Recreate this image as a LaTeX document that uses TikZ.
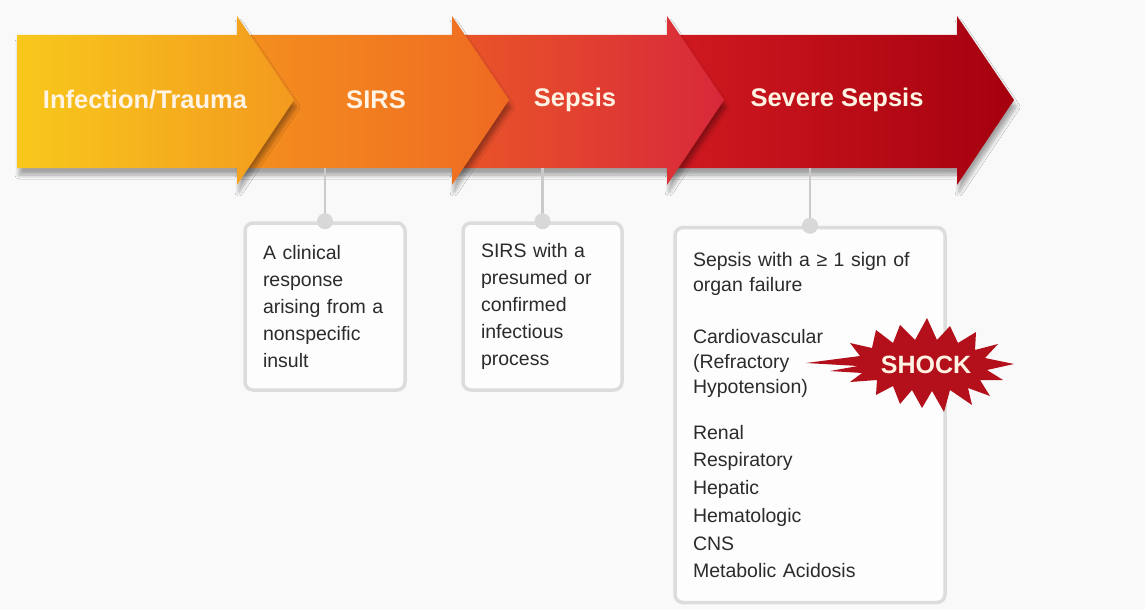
\documentclass[tikz,border=0pt]{standalone}
\usepackage{fontspec}
\setmainfont{Liberation Sans}
\usetikzlibrary{shadows.blur}
\definecolor{bg}{HTML}{F9F9F9}
\definecolor{boxfill}{HTML}{FDFDFD}
\definecolor{boxline}{HTML}{DCDCDC}
\definecolor{connline}{HTML}{CACACA}
\definecolor{knob}{HTML}{D8D8D8}
\definecolor{txt}{HTML}{2B2B2B}
\definecolor{headtxt}{HTML}{FFF3E3}
\definecolor{aAl}{HTML}{F8C81C}
\definecolor{aAr}{HTML}{F39A1E}
\definecolor{aBl}{HTML}{F4901E}
\definecolor{aBr}{HTML}{EF6A22}
\definecolor{aCl}{HTML}{EA5628}
\definecolor{aCr}{HTML}{D8283A}
\definecolor{aDl}{HTML}{D11A20}
\definecolor{aDr}{HTML}{A5000F}
\definecolor{shockred}{HTML}{B3101C}
\newcommand{\stagearrow}[4]{%
  \path[arrowshadow, left color=#3, right color=#4]
    (#1,35) -- (#2,35) -- (#2,16) -- (#2+57,100) -- (#2,185) -- (#2,168) -- (#1,168) -- cycle;}
\begin{document}
\begin{tikzpicture}[x=1pt,y=-1pt,
  arrowshadow/.style={blur shadow={shadow xshift=2pt, shadow yshift=-7pt, shadow opacity=35, shadow blur steps=8, shadow blur radius=4pt}},
  head/.style={text=headtxt, font=\bfseries\fontsize{25.5}{30}\selectfont, inner sep=0pt},
  infobox/.style={draw=boxline, line width=3.5pt, rounded corners=8pt, fill=boxfill,
    text=txt, align=left, inner xsep=18pt, inner ysep=0pt, font=\fontsize{19.5}{27}\selectfont},
  conn/.style={draw=connline, line width=2.5pt},
  knobdot/.style={fill=knob, draw=none}]
\useasboundingbox[fill=bg] (0,0) rectangle (1145,610);

% arrows, back to front
\stagearrow{667}{957}{aDl}{aDr}
\stagearrow{452}{667}{aCl}{aCr}
\stagearrow{237}{452}{aBl}{aBr}
\stagearrow{17}{237}{aAl}{aAr}

% headings
\node[head] (h1) at (145,100) {Infection/Trauma};
\node[head] (h2) at (376,100) {SIRS};
\node[head] (h3) at (575,100) {Sepsis};
\node[head] (h4) at (837,100) {Severe Sepsis};

% boxes
\node[infobox, text width=124pt, minimum width=160pt, minimum height=167pt] (b1) at (325,306.5)
  {A clinical\\response\\arising from a\\nonspecific\\insult};
\node[infobox, text width=123pt, minimum width=159pt, minimum height=167pt] (b2) at (542.5,306.5)
  {SIRS with a\\presumed or\\confirmed\\infectious\\process};
\node[infobox, text width=234pt, minimum width=270pt, minimum height=375pt,
  font=\fontsize{19.5}{25}\selectfont] (b3) at (810,415)
  {Sepsis with a ≥ 1 sign of\\organ failure\\[27pt]
   Cardiovascular\\(Refractory\\Hypotension)\\[21pt]
   Renal\\[2.7pt]Respiratory\\[2.7pt]Hepatic\\[2.7pt]Hematologic\\[2.7pt]CNS\\[2.7pt]Metabolic Acidosis};

% connectors
\coordinate (s1) at (b1.north |- 0,168);
\coordinate (s2) at (b2.north |- 0,168);
\coordinate (s3) at (b3.north |- 0,168);
\draw[conn] (s1) -- (b1.north);
\draw[conn] (s2) -- (b2.north);
\draw[conn] (s3) -- (b3.north);
\fill[knobdot] (b1.north) circle (8);
\fill[knobdot] (b2.north) circle (8);
\fill[knobdot] (b3.north) circle (8);

% shock starburst
\fill[shockred] (806,363) -- (860,356) -- (850,343) -- (872,348) -- (876,330) -- (893,343)
  -- (900,325) -- (915,340) -- (927,318) -- (937,340) -- (950,326) -- (958,343)
  -- (976,332) -- (975,350) -- (998,344) -- (985,358) -- (1014,364) -- (987,370)
  -- (1003,380) -- (980,380) -- (990,396) -- (968,388) -- (972,405) -- (950,390)
  -- (944,412) -- (932,391) -- (922,408) -- (912,390) -- (900,404) -- (893,386)
  -- (876,395) -- (877,380) -- (850,382) -- (862,373) -- (830,371) -- (858,366) -- cycle;
\node[text=headtxt, font=\bfseries\fontsize{25}{30}\selectfont, inner sep=0pt] (shock) at (926,365) {SHOCK};
\end{tikzpicture}
\end{document}
